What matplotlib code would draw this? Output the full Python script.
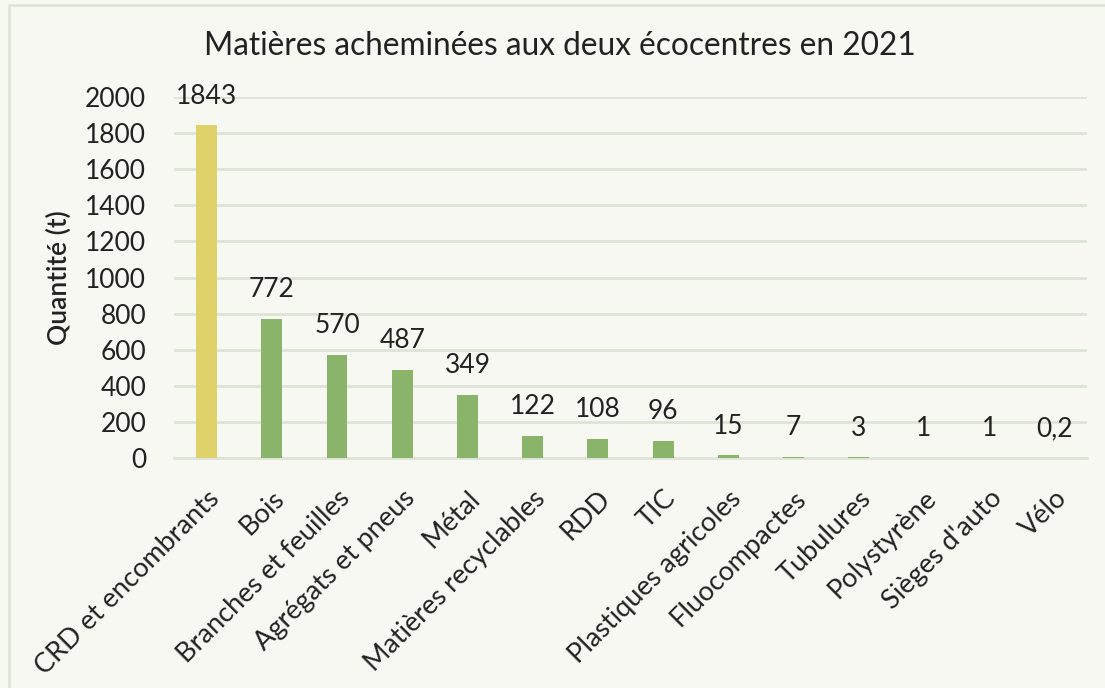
import matplotlib
matplotlib.use("Agg")
import matplotlib.pyplot as plt
from matplotlib.patches import Rectangle
import numpy as np

categories = ["CRD et encombrants", "Bois", "Branches et feuilles",
              "Agrégats et pneus", "Métal", "Matières recyclables", "RDD",
              "TIC", "Plastiques agricoles", "Fluocompactes", "Tubulures",
              "Polystyrène", "Sièges d'auto", "Vélo"]
quantities = [1843, 772, 570, 487, 349, 122, 108, 96, 15, 7, 3, 1, 1, 0.2]
yticks = [0, 200, 400, 600, 800, 1000, 1200, 1400, 1600, 1800, 2000]
highlight = "CRD et encombrants"

title = "Matières acheminées aux deux écocentres en 2021"
ylabel = "Quantité (t)"

bg = "#F8F8F2"
green = "#8BB46B"
yellow = "#E0D26A"
grid_col = "#DEE3D8"
text_col = "#222222"

plt.rcParams["font.family"] = ["Lato", "DejaVu Sans"]


def fmt(v):
    # French decimal comma
    if float(v).is_integer():
        return f"{int(v)}"
    return f"{v}".replace(".", ",")


fig = plt.figure(figsize=(11.05, 6.88), dpi=100, facecolor=bg)
ax = fig.add_axes([174 / 1105, 1 - 458 / 688, 913 / 1105, 361 / 688])
ax.set_facecolor(bg)

x = np.arange(len(categories))
colors = [yellow if c == highlight else green for c in categories]
bars = ax.bar(x, quantities, width=0.32, color=colors, zorder=3)

for xi, v in zip(x, quantities):
    ax.annotate(fmt(v), (xi, v), xytext=(0, 12), textcoords="offset points",
                ha="center", va="bottom", fontsize=19, color=text_col)

ax.set_xlim(-0.5, len(categories) - 0.5)
ax.set_ylim(0, 2000)
ax.set_yticks(yticks)
ax.set_yticklabels([str(t) for t in yticks])
ax.yaxis.grid(True, color=grid_col, lw=2, zorder=0)
ax.tick_params(axis="y", length=0, pad=20, labelsize=19, labelcolor=text_col)
ax.tick_params(axis="x", length=0, pad=20, labelsize=19.5, labelcolor=text_col)

ax.set_xticks(x)
ax.set_xticklabels(categories, rotation=45, ha="right", va="top",
                   rotation_mode="anchor")

for s in ["top", "right", "left"]:
    ax.spines[s].set_visible(False)
ax.spines["bottom"].set_color(grid_col)
ax.spines["bottom"].set_linewidth(2)

ax.set_ylabel(ylabel, fontsize=19, fontweight="semibold", color=text_col)
ax.yaxis.set_label_coords(-0.112, 0.5)

fig.text(560 / 1105, 1 - 46 / 688, title, ha="center", va="center",
         fontsize=22.8, color=text_col)

# chart area frame
fig.patches.append(Rectangle((9 / 1105, -0.1), 1.2, 0.1 + (688 - 5) / 688,
                             transform=fig.transFigure, fill=False,
                             ec="#DCE3D6", lw=1.8))

fig.savefig("out.png", dpi=100, facecolor=bg)
